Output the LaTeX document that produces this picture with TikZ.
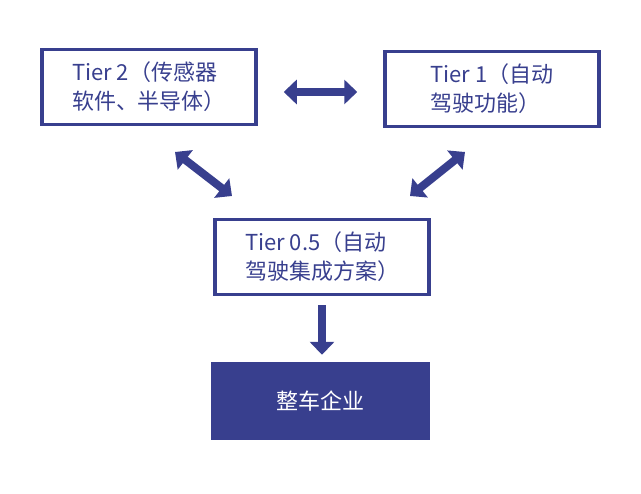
\documentclass[tikz,border=0pt]{standalone}
\usepackage{fontspec}
\setmainfont{Noto Sans CJK SC}
\usetikzlibrary{positioning,arrows.meta}
\definecolor{tierblue}{HTML}{383F8E}
\tikzset{
  tier/.style={draw=tierblue, line width=3.5pt, minimum width=214pt, minimum height=75pt,
    text=tierblue, font=\fontsize{22}{29}\selectfont, align=left, inner sep=0pt},
  oem/.style={fill=tierblue, minimum width=219pt, minimum height=78pt,
    text=white, font=\fontsize{22}{29}\selectfont, inner sep=0pt},
  link/.style={tierblue, line width=8pt, {Triangle[length=13pt,width=24pt]}-{Triangle[length=13pt,width=24pt]}},
  feed/.style={tierblue, line width=8pt, -{Triangle[length=13pt,width=24pt]}}
}
\begin{document}
\begin{tikzpicture}[x=1pt,y=1pt]
\useasboundingbox (0,0) rectangle (641,494);
\node[tier] (t2) at (149,407) {Tier 2（传感器\\软件、半导体）};
\node[tier] (t1) at (492,405) {Tier 1（自动\\驾驶功能）};
\node[tier] (t05) at (322,237) {Tier 0.5（自动\\驾驶集成方案）};
\node[oem] (oem) at (320.5,93) {整车企业};
% connectors
\draw[link] ([xshift=26pt]t2.east |- 0,402) -- ([xshift=-26pt]t1.west |- 0,402);
\draw[link] (175,342) -- (232,298);
\draw[link] (465,342) -- (410,298);
\draw[feed] ([yshift=-9pt]t05.south) coordinate (s) -- ([yshift=7pt]oem.north -| s);
\end{tikzpicture}
\end{document}
